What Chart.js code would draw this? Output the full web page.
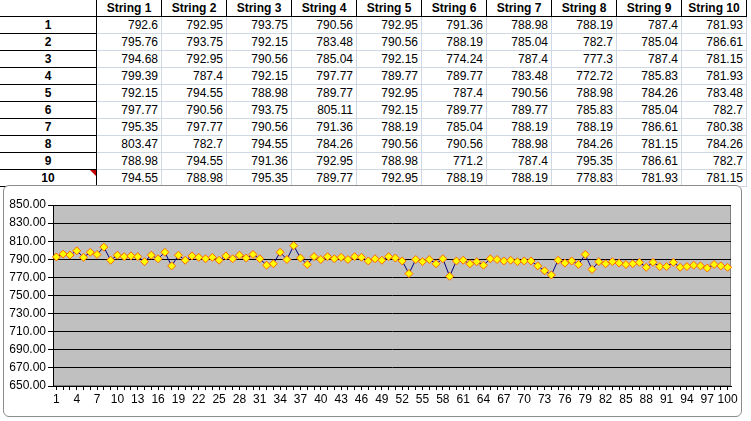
<!DOCTYPE html>
<html>
<head>
<meta charset="utf-8">
<script src="https://cdn.jsdelivr.net/npm/chart.js@4/dist/chart.umd.min.js"></script>
<style>
  html, body { margin: 0; padding: 0; background: #fff; }
  body { width: 751px; height: 421px; overflow: hidden; position: relative;
         font-family: Arial, "Liberation Sans", sans-serif; font-size: 12px; }
  .cell { position: absolute; box-sizing: border-box; line-height: 17px;
          white-space: nowrap; overflow: hidden; }
  .num { text-align: right; padding-right: 3px; color: #000; }
  .head { text-align: center; font-weight: bold; }
  #chartBox { position: absolute; left: 3px; top: 185px; width: 739px; height: 232px;
              box-sizing: border-box; border: 1px solid #8c8c8c; border-radius: 6px;
              background: #fff; }
  #chartBox canvas { display: block; }
</style>
</head>
<body>
<div id="sheet"></div>
<div id="chartBox"><canvas id="stringChart" width="737" height="230"></canvas></div>
<script>
// Table columns (one array per string, rows 1..10)
const stringNames = ["String 1", "String 2", "String 3", "String 4", "String 5",
  "String 6", "String 7", "String 8", "String 9", "String 10"];
const string1 = [792.6, 795.76, 794.68, 799.39, 792.15, 797.77, 795.35, 803.47, 788.98, 794.55];
const string2 = [792.95, 793.75, 792.95, 787.4, 794.55, 790.56, 797.77, 782.7, 794.55, 788.98];
const string3 = [793.75, 792.15, 790.56, 792.15, 788.98, 793.75, 790.56, 794.55, 791.36, 795.35];
const string4 = [790.56, 783.48, 785.04, 797.77, 789.77, 805.11, 791.36, 784.26, 792.95, 789.77];
const string5 = [792.95, 790.56, 792.15, 789.77, 792.95, 792.15, 788.19, 790.56, 788.98, 792.95];
const string6 = [791.36, 788.19, 774.24, 789.77, 787.4, 789.77, 785.04, 790.56, 771.2, 788.19];
const string7 = [788.98, 785.04, 787.4, 783.48, 790.56, 789.77, 788.19, 788.98, 787.4, 788.19];
const string8 = [788.19, 782.7, 777.3, 772.72, 788.98, 785.83, 788.19, 784.26, 795.35, 778.83];
const string9 = [787.4, 785.04, 787.4, 785.83, 784.26, 785.04, 786.61, 781.15, 786.61, 781.93];
const string10 = [781.93, 786.61, 781.15, 781.93, 783.48, 782.7, 780.38, 784.26, 782.7, 781.15];
const stringColumns = [string1, string2, string3, string4, string5,
  string6, string7, string8, string9, string10];

// Chart series: the table read column by column
const seriesValues = [].concat(...stringColumns);
const categories = seriesValues.map((v, i) => String(i + 1));
const yMin = 650, yMax = 850, yStep = 20;
const xLabelEvery = 3;

// Build spreadsheet cells
const sheet = document.getElementById("sheet");
const firstColW = 96, colW = 65, headH = 16, rowH = 17;
function addCell(x, y, w, h, text, cls, borders) {
  const d = document.createElement("div");
  d.className = "cell " + cls;
  d.style.left = x + "px"; d.style.top = y + "px";
  d.style.width = w + "px"; d.style.height = h + "px";
  d.style.lineHeight = h + "px";
  d.style.borderRight = borders.r; d.style.borderBottom = borders.b;
  d.textContent = text;
  sheet.appendChild(d);
}
const dark = "1px solid #000", light = "1px solid #d0d7e5";
addCell(0, 0, firstColW + 1, headH + 1, "", "head", { r: dark, b: dark });
stringNames.forEach((name, c) => {
  addCell(firstColW + 1 + c * colW, 0, colW, headH + 1, name, "head", { r: dark, b: dark });
});
for (let r = 0; r < 10; r++) {
  const y = headH + 1 + r * rowH;
  addCell(0, y, firstColW + 1, rowH, String(r + 1), "head", { r: dark, b: dark });
  stringColumns.forEach((col, c) => {
    addCell(firstColW + 1 + c * colW, y, colW, rowH, String(col[r]), "num", { r: light, b: light });
  });
}
// comment marker on row 10 header
const tri = document.createElement("div");
tri.style.cssText = "position:absolute;left:90px;top:170px;width:0;height:0;" +
  "border-top:6px solid #c00000;border-left:6px solid transparent;";
sheet.appendChild(tri);

// Gray plot area
const plotBg = {
  id: "plotBg",
  beforeDraw(chart) {
    const { ctx, chartArea: a } = chart;
    ctx.save();
    ctx.fillStyle = "#c0c0c0";
    ctx.fillRect(a.left, a.top, a.right - a.left, a.bottom - a.top);
    ctx.strokeStyle = "#808080";
    ctx.lineWidth = 1;
    ctx.strokeRect(a.left + 0.5, a.top + 0.5, a.right - a.left - 1, a.bottom - a.top - 1);
    ctx.restore();
  }
};

const ctx = document.getElementById("stringChart").getContext("2d");
new Chart(ctx, {
  type: "line",
  data: {
    labels: categories,
    datasets: [{
      data: seriesValues,
      borderColor: "#000080",
      borderWidth: 1,
      pointStyle: "rectRot",
      pointRadius: 4,
      pointBackgroundColor: "#ffff00",
      pointBorderColor: "#ff6600",
      pointBorderWidth: 1,
      tension: 0,
      fill: false
    }]
  },
  options: {
    responsive: false,
    animation: false,
    layout: { padding: { left: 0, right: 10, top: 19, bottom: 0 } },
    plugins: { legend: { display: false }, tooltip: { enabled: false } },
    scales: {
      x: {
        offset: true,
        grid: { display: true, drawOnChartArea: false, drawTicks: true, tickLength: 4, color: "#000" },
        border: { display: true, color: "#000" },
        ticks: {
          autoSkip: false, maxRotation: 0, minRotation: 0, padding: 2,
          color: "#000", font: { family: "Arial", size: 12 },
          callback: function (v, i) { return i % xLabelEvery === 0 ? categories[i] : ""; }
        },
        afterFit: function (s) { s.height = 30; }
      },
      y: {
        min: yMin, max: yMax,
        grid: { color: "#000", lineWidth: 1, tickLength: 5 },
        border: { display: true, color: "#000" },
        ticks: {
          stepSize: yStep, padding: 2, color: "#000",
          font: { family: "Arial", size: 12 },
          callback: function (v) { return v.toFixed(2); }
        },
        afterFit: function (s) { s.width = 49; }
      }
    }
  },
  plugins: [plotBg]
});
</script>
</body>
</html>
